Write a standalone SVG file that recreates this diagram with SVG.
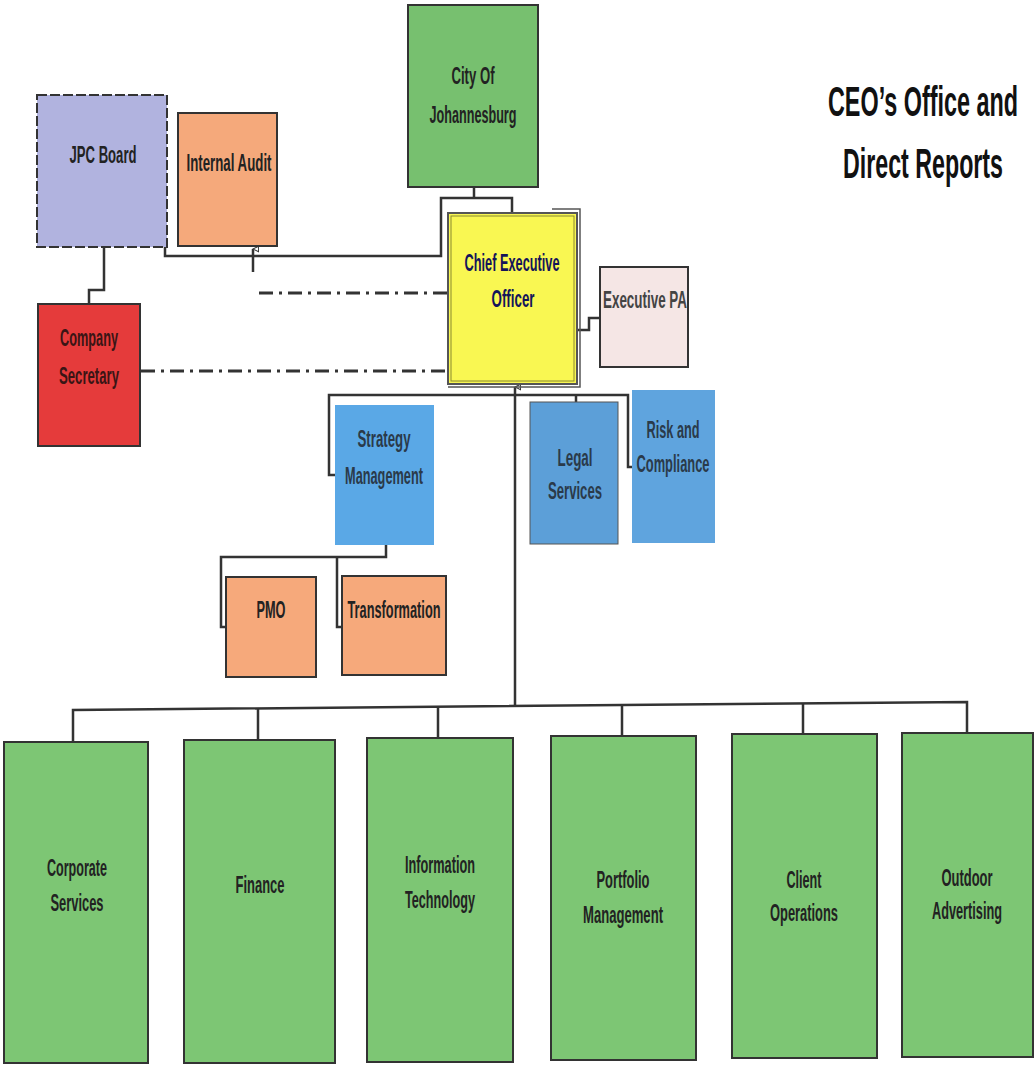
<svg xmlns="http://www.w3.org/2000/svg" width="1035" height="1066" viewBox="0 0 1035 1066">
<style>
.box{stroke:#333;stroke-width:2}
.t{font-family:"Liberation Sans",Arial,sans-serif;font-weight:bold;font-size:24px;fill:#222;text-anchor:middle}
.c{fill:none;stroke:#333;stroke-width:2.5}
.dd{fill:none;stroke:#333;stroke-width:3;stroke-dasharray:14 6 3 6}
.title{font-family:"Liberation Sans",Arial,sans-serif;font-weight:bold;font-size:42px;fill:#111;text-anchor:end}
</style>
<defs>
<marker id="arr" viewBox="0 0 10 10" refX="5" refY="1" markerWidth="7" markerHeight="7" orient="auto-start-reverse" markerUnits="userSpaceOnUse">
<path d="M5 1 L9 9 L1 9 Z" fill="#fff" stroke="#333" stroke-width="1.5"/>
</marker>
</defs>
<rect width="1035" height="1066" fill="#fff"/>

<g id="connectors">
<path class="c" d="M165 245 V256 H441 V198 H512 V213"/>
<path class="c" d="M474 187 V198"/>
<path class="dd" d="M447 293 H256"/>
<path class="c" d="M253 272 V249" marker-end="url(#arr)"/>
<path class="c" d="M104 247 V290 H89 V304"/>
<path class="dd" d="M141 371 H447"/>
<path class="c" d="M578 330 H589 V318 H600"/>
<path class="c" d="M515 706 V387" marker-end="url(#arr)"/>
<path class="c" d="M335 475 H329 V395 H628 V467 H632"/>
<path class="c" d="M576 395 V402"/>
<path class="c" d="M386 545 V557 H221 V627 H226"/>
<path class="c" d="M337 557 V627 H342"/>
<path class="c" d="M73 742 V710 L967 702 V733"/>
<path class="c" d="M258 708 V740 M438 707 V738 M622 705 V736 M803 703.5 V734"/>
</g>

<g id="title">
<text class="title" x="1018" y="116" textLength="190" lengthAdjust="spacingAndGlyphs">CEO’s Office and</text>
<text class="title" x="1003" y="178" textLength="160" lengthAdjust="spacingAndGlyphs">Direct Reports</text>
</g>

<g id="jpc-board">
<rect class="box" x="37" y="95" width="130" height="152" fill="#b1b3df" stroke-dasharray="10 3"/>
<text class="t" x="103" y="163" textLength="67" lengthAdjust="spacingAndGlyphs">JPC Board</text>
</g>
<g id="internal-audit">
<rect class="box" x="178" y="113" width="99" height="133" fill="#f5a97b" stroke="#666"/>
<text class="t" x="229" y="171" textLength="85" lengthAdjust="spacingAndGlyphs">Internal Audit</text>
</g>
<g id="city-of-johannesburg">
<rect class="box" x="408" y="5" width="130" height="182" fill="#77c06f"/>
<text class="t" x="473" y="84" textLength="43" lengthAdjust="spacingAndGlyphs">City Of</text>
<text class="t" x="473" y="123" textLength="87" lengthAdjust="spacingAndGlyphs">Johannesburg</text>
</g>
<g id="ceo">
<rect x="448" y="213" width="129" height="171" fill="#f9f752" stroke="#555" stroke-width="2"/>
<rect x="451" y="216" width="123" height="165" fill="none" stroke="#8a8a30" stroke-width="1"/>
<path d="M552 209 H580 V387 H448" fill="none" stroke="#555" stroke-width="1.5"/>
<text class="t" x="512" y="271" textLength="95" lengthAdjust="spacingAndGlyphs" style="fill:#14145a">Chief Executive</text>
<text class="t" x="513" y="307" textLength="43" lengthAdjust="spacingAndGlyphs" style="fill:#14145a">Officer</text>
</g>
<g id="executive-pa">
<rect class="box" x="600" y="267" width="88" height="100" fill="#f5e6e5" stroke="#555"/>
<text class="t" x="645" y="308" textLength="84" lengthAdjust="spacingAndGlyphs" style="fill:#444">Executive PA</text>
</g>
<g id="company-secretary">
<rect class="box" x="38" y="304" width="102" height="142" fill="#e53b3b"/>
<text class="t" x="89" y="346" textLength="58" lengthAdjust="spacingAndGlyphs" style="fill:#3a1515">Company</text>
<text class="t" x="89" y="384" textLength="60" lengthAdjust="spacingAndGlyphs" style="fill:#3a1515">Secretary</text>
</g>
<g id="strategy-management">
<rect x="335" y="405" width="99" height="140" fill="#5aa8e6"/>
<text class="t" x="384" y="447" textLength="53" lengthAdjust="spacingAndGlyphs" style="fill:#2a3a4a">Strategy</text>
<text class="t" x="384" y="484" textLength="78" lengthAdjust="spacingAndGlyphs" style="fill:#2a3a4a">Management</text>
</g>
<g id="legal-services">
<rect x="530" y="402" width="88" height="142" fill="#5c9fd8" stroke="#555" stroke-width="1"/>
<text class="t" x="575" y="466" textLength="35" lengthAdjust="spacingAndGlyphs" style="fill:#2a3a4a">Legal</text>
<text class="t" x="575" y="499" textLength="54" lengthAdjust="spacingAndGlyphs" style="fill:#2a3a4a">Services</text>
</g>
<g id="risk-and-compliance">
<rect x="632" y="390" width="83" height="153" fill="#5fa4de"/>
<text class="t" x="673" y="438" textLength="53" lengthAdjust="spacingAndGlyphs" style="fill:#2a3a4a">Risk and</text>
<text class="t" x="673" y="472" textLength="73" lengthAdjust="spacingAndGlyphs" style="fill:#2a3a4a">Compliance</text>
</g>
<g id="pmo">
<rect class="box" x="226" y="577" width="90" height="100" fill="#f6a97b"/>
<text class="t" x="271" y="618" textLength="29" lengthAdjust="spacingAndGlyphs">PMO</text>
</g>
<g id="transformation">
<rect class="box" x="342" y="576" width="104" height="99" fill="#f6a97b"/>
<text class="t" x="394" y="618" textLength="93" lengthAdjust="spacingAndGlyphs">Transformation</text>
</g>
<g id="corporate-services">
<rect class="box" x="4" y="742" width="144" height="321" fill="#7dc674"/>
<text class="t" x="77" y="876" textLength="60" lengthAdjust="spacingAndGlyphs">Corporate</text>
<text class="t" x="77" y="911" textLength="53" lengthAdjust="spacingAndGlyphs">Services</text>
</g>
<g id="finance">
<rect class="box" x="184" y="740" width="151" height="323" fill="#7dc674"/>
<text class="t" x="260" y="893" textLength="49" lengthAdjust="spacingAndGlyphs">Finance</text>
</g>
<g id="information-technology">
<rect class="box" x="367" y="738" width="146" height="324" fill="#7dc674"/>
<text class="t" x="440" y="873" textLength="70" lengthAdjust="spacingAndGlyphs">Information</text>
<text class="t" x="440" y="908" textLength="70" lengthAdjust="spacingAndGlyphs">Technology</text>
</g>
<g id="portfolio-management">
<rect class="box" x="551" y="736" width="145" height="324" fill="#7dc674"/>
<text class="t" x="623" y="888" textLength="53" lengthAdjust="spacingAndGlyphs">Portfolio</text>
<text class="t" x="623" y="923" textLength="80" lengthAdjust="spacingAndGlyphs">Management</text>
</g>
<g id="client-operations">
<rect class="box" x="732" y="734" width="145" height="324" fill="#7dc674"/>
<text class="t" x="804" y="888" textLength="35" lengthAdjust="spacingAndGlyphs">Client</text>
<text class="t" x="804" y="921" textLength="68" lengthAdjust="spacingAndGlyphs">Operations</text>
</g>
<g id="outdoor-advertising">
<rect class="box" x="902" y="733" width="131" height="324" fill="#7dc674"/>
<text class="t" x="967" y="886" textLength="51" lengthAdjust="spacingAndGlyphs">Outdoor</text>
<text class="t" x="967" y="919" textLength="70" lengthAdjust="spacingAndGlyphs">Advertising</text>
</g>
</svg>
